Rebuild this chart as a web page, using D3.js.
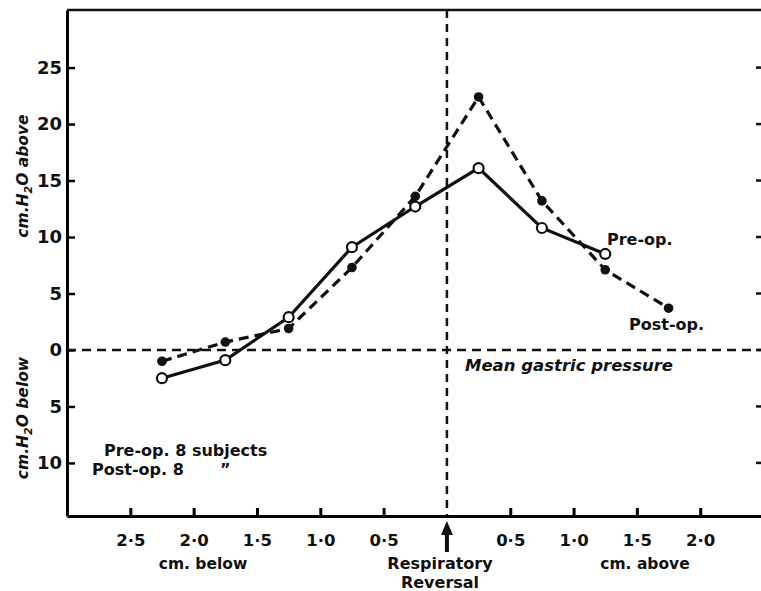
<!DOCTYPE html>
<html>
<head>
<meta charset="utf-8">
<script src="https://cdn.jsdelivr.net/npm/d3@7"></script>
<style>
  body { margin: 0; background: #fff; }
  text { font-family: "DejaVu Sans", sans-serif; font-weight: bold; fill: #111; }
</style>
</head>
<body>
<div id="chart"></div>
<script>
// distance from respiratory reversal (cm), negative = below
const positions = [-2.25, -1.75, -1.25, -0.75, -0.25, 0.25, 0.75, 1.25, 1.75]
// pressure relative to mean gastric pressure (cm H2O)
const preOp = [-2.5, -0.9, 2.9, 9.1, 12.7, 16.1, 10.8, 8.5]
const postOp = [-1.0, 0.7, 1.9, 7.3, 13.6, 22.4, 13.2, 7.1, 3.7]

const xTicks = [-2.5, -2.0, -1.5, -1.0, -0.5, 0.5, 1.0, 1.5, 2.0]
const yTicks = [-10, -5, 0, 5, 10, 15, 20, 25]

const width = 761, height = 591
const plotLeft = 67, plotRight = 761, plotTop = 10, plotBottom = 516

let svg = d3.select('#chart').append('svg')
    .attr('width', width)
    .attr('height', height)

let x = d3.scaleLinear().domain([-3.0, 2.48]).range([plotLeft, plotRight])
let y = d3.scaleLinear().domain([-14.7, 30.1]).range([plotBottom, plotTop])

const fmt = d => Math.abs(d).toFixed(1).replace('.', '·')

// Frame line along the top
svg.append('line')
    .attr('x1', plotLeft).attr('x2', plotRight).attr('y1', plotTop).attr('y2', plotTop)
    .style('stroke', '#111').style('stroke-width', 2.5)

// Bottom axis, ticks inward
let xAxis = svg.append('g')
    .attr('transform', 'translate(0,' + plotBottom + ')')
    .call(d3.axisBottom(x).tickValues(xTicks).tickSizeInner(-8).tickSizeOuter(0).tickFormat(fmt))
xAxis.select('.domain').style('stroke-width', 3)
xAxis.selectAll('.tick line').style('stroke-width', 3)
xAxis.selectAll('.tick text')
    .attr('y', 18)
    .attr('font-size', 16.5).attr('font-family', 'DejaVu Sans').attr('font-weight', 'bold')

// Left axis, ticks inward
let yAxis = svg.append('g')
    .attr('transform', 'translate(' + plotLeft + ',0)')
    .call(d3.axisLeft(y).tickValues(yTicks).tickSizeInner(-8).tickSizeOuter(0).tickFormat(d => Math.abs(d)))
yAxis.select('.domain').style('stroke-width', 3)
yAxis.selectAll('.tick line').style('stroke-width', 2.5)
yAxis.selectAll('.tick text')
    .attr('x', -5)
    .attr('font-size', 18).attr('font-family', 'DejaVu Sans').attr('font-weight', 'bold')

// Right edge ticks (box edge is cut off)
svg.append('g').selectAll('line')
    .data(yTicks)
    .join('line')
    .attr('x1', plotRight - 5).attr('x2', plotRight)
    .attr('y1', d => y(d)).attr('y2', d => y(d))
    .style('stroke', '#111').style('stroke-width', 2.5)

// Reference lines
svg.append('line')
    .attr('x1', x(0)).attr('x2', x(0)).attr('y1', plotTop).attr('y2', plotBottom)
    .style('stroke', '#111').style('stroke-width', 2.5).style('stroke-dasharray', '8,6')
svg.append('line')
    .attr('x1', plotLeft).attr('x2', plotRight).attr('y1', y(0)).attr('y2', y(0))
    .style('stroke', '#111').style('stroke-width', 2.5).style('stroke-dasharray', '9,6')

// Series
let line = d3.line().x(d => x(d[0])).y(d => y(d[1]))
let postData = postOp.map((v, i) => [positions[i], v])
let preData = preOp.map((v, i) => [positions[i], v])

svg.append('path')
    .datum(postData)
    .attr('d', line)
    .style('fill', 'none').style('stroke', '#111').style('stroke-width', 3.2)
    .style('stroke-dasharray', '10,6')
svg.append('g').selectAll('circle')
    .data(postData)
    .join('circle')
    .attr('cx', d => x(d[0])).attr('cy', d => y(d[1]))
    .attr('r', 4.8)
    .style('fill', '#111')

svg.append('path')
    .datum(preData)
    .attr('d', line)
    .style('fill', 'none').style('stroke', '#111').style('stroke-width', 3.2)
svg.append('g').selectAll('circle')
    .data(preData)
    .join('circle')
    .attr('cx', d => x(d[0])).attr('cy', d => y(d[1]))
    .attr('r', 5)
    .style('fill', '#fff').style('stroke', '#111').style('stroke-width', 2.2)

// Series labels
svg.append('text').attr('x', 607).attr('y', 245).attr('font-size', 16).text('Pre-op.')
svg.append('text').attr('x', 629).attr('y', 330).attr('font-size', 16).text('Post-op.')
svg.append('text').attr('x', 465).attr('y', 371).attr('font-size', 16.5)
    .style('font-style', 'italic').text('Mean gastric pressure')

// Subject counts
svg.append('text').attr('x', 104).attr('y', 456).attr('font-size', 16).text('Pre-op. 8 subjects')
let post = svg.append('text').attr('x', 92).attr('y', 475).attr('font-size', 16)
post.append('tspan').text('Post-op. 8')
post.append('tspan').attr('x', 220).text('\u201D')

// Axis titles
svg.append('text').attr('x', 203).attr('y', 569).attr('font-size', 15.5)
    .attr('text-anchor', 'middle').text('cm. below')
svg.append('text').attr('x', 645).attr('y', 569).attr('font-size', 15.5)
    .attr('text-anchor', 'middle').text('cm. above')
svg.append('text').attr('x', 440).attr('y', 569).attr('font-size', 16)
    .attr('text-anchor', 'middle').text('Respiratory')
svg.append('text').attr('x', 440).attr('y', 588).attr('font-size', 16)
    .attr('text-anchor', 'middle').text('Reversal')

// Arrow at reversal
svg.append('line')
    .attr('x1', x(0)).attr('x2', x(0)).attr('y1', 532).attr('y2', 552)
    .style('stroke', '#111').style('stroke-width', 4)
svg.append('path')
    .attr('d', d3.line()([[x(0) - 6, 535], [x(0), 521], [x(0) + 6, 535]]) + 'Z')
    .style('fill', '#111')

// Y titles
svg.append('text')
    .attr('transform', 'translate(28,176) rotate(-90)')
    .attr('text-anchor', 'middle').attr('font-size', 15.5).style('font-style', 'italic')
    .html('cm.H<tspan dy="4" font-size="11">2</tspan><tspan dy="-4">O above</tspan>')
svg.append('text')
    .attr('transform', 'translate(28,418) rotate(-90)')
    .attr('text-anchor', 'middle').attr('font-size', 15.5).style('font-style', 'italic')
    .html('cm.H<tspan dy="4" font-size="11">2</tspan><tspan dy="-4">O below</tspan>')
</script>
</body>
</html>
